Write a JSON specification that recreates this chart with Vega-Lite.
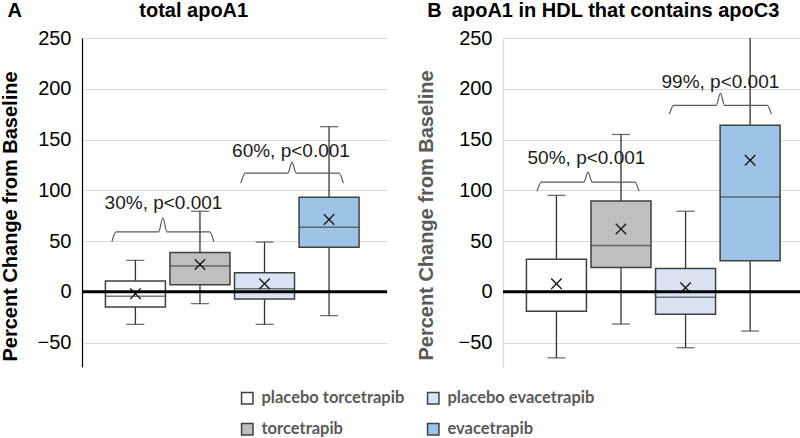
{
  "$schema": "https://vega.github.io/schema/vega-lite/v6.json",
  "padding": {"left": 0, "top": 0, "right": 0, "bottom": 0},
  "background": "white",
  "config": {
    "view": {"stroke": null},
    "font": "Liberation Sans",
    "axis": {"labelFont": "Liberation Sans", "titleFont": "Liberation Sans"}
  },
  "datasets": {
    "boxes": [
      {"panel": "A", "group": "placebo torcetrapib", "x": 1, "low": -32, "q1": -15, "median": -4.4, "q3": 10.6, "high": 31, "mean": -1.8},
      {"panel": "A", "group": "torcetrapib", "x": 2, "low": -11.6, "q1": 7.1, "median": 25.4, "q3": 38.8, "high": 79.4, "mean": 27},
      {"panel": "A", "group": "placebo evacetrapib", "x": 3, "low": -32, "q1": -7.1, "median": 3.1, "q3": 18.9, "high": 49, "mean": 8},
      {"panel": "A", "group": "evacetrapib", "x": 4, "low": -23.4, "q1": 44, "median": 63.7, "q3": 93.2, "high": 162.7, "mean": 71.3},
      {"panel": "B", "group": "placebo torcetrapib", "x": 1, "low": -65, "q1": -19, "median": 0, "q3": 32, "high": 95, "mean": 8},
      {"panel": "B", "group": "torcetrapib", "x": 2, "low": -31.7, "q1": 24, "median": 45.7, "q3": 89.5, "high": 155, "mean": 62},
      {"panel": "B", "group": "placebo evacetrapib", "x": 3, "low": -55, "q1": -22, "median": -5.3, "q3": 23, "high": 79.4, "mean": 4},
      {"panel": "B", "group": "evacetrapib", "x": 4, "low": -38.6, "q1": 30.7, "median": 93.4, "q3": 164, "high": 290, "mean": 129.7}
    ],
    "brackets": [
      {"panel": "A", "id": "A1", "x": 0.636, "y": 49.5},
      {"panel": "A", "id": "A1", "x": 0.70, "y": 59},
      {"panel": "A", "id": "A1", "x": 1.36, "y": 59},
      {"panel": "A", "id": "A1", "x": 1.425, "y": 73},
      {"panel": "A", "id": "A1", "x": 1.49, "y": 59},
      {"panel": "A", "id": "A1", "x": 2.15, "y": 59},
      {"panel": "A", "id": "A1", "x": 2.214, "y": 49.5},
      {"panel": "A", "id": "A2", "x": 2.633, "y": 107},
      {"panel": "A", "id": "A2", "x": 2.70, "y": 117},
      {"panel": "A", "id": "A2", "x": 3.36, "y": 117},
      {"panel": "A", "id": "A2", "x": 3.427, "y": 127.5},
      {"panel": "A", "id": "A2", "x": 3.49, "y": 117},
      {"panel": "A", "id": "A2", "x": 4.155, "y": 117},
      {"panel": "A", "id": "A2", "x": 4.22, "y": 107},
      {"panel": "B", "id": "B1", "x": 0.70, "y": 99},
      {"panel": "B", "id": "B1", "x": 0.765, "y": 108},
      {"panel": "B", "id": "B1", "x": 1.425, "y": 108},
      {"panel": "B", "id": "B1", "x": 1.49, "y": 118},
      {"panel": "B", "id": "B1", "x": 1.555, "y": 108},
      {"panel": "B", "id": "B1", "x": 2.215, "y": 108},
      {"panel": "B", "id": "B1", "x": 2.28, "y": 99},
      {"panel": "B", "id": "B2", "x": 2.75, "y": 175},
      {"panel": "B", "id": "B2", "x": 2.815, "y": 183.7},
      {"panel": "B", "id": "B2", "x": 3.475, "y": 183.7},
      {"panel": "B", "id": "B2", "x": 3.54, "y": 195.5},
      {"panel": "B", "id": "B2", "x": 3.605, "y": 183.7},
      {"panel": "B", "id": "B2", "x": 4.265, "y": 183.7},
      {"panel": "B", "id": "B2", "x": 4.33, "y": 175}
    ],
    "notes": [
      {"panel": "A", "label": "30%, p<0.001", "x": 1.435, "y": 88},
      {"panel": "A", "label": "60%, p<0.001", "x": 3.41, "y": 139},
      {"panel": "B", "label": "50%, p<0.001", "x": 1.465, "y": 132},
      {"panel": "B", "label": "99%, p<0.001", "x": 3.54, "y": 207}
    ],
    "titles": [
      {"panel": "A", "label": "A", "x": -0.98, "y": 271},
      {"panel": "A", "label": "total apoA1", "x": 1.06, "y": 271},
      {"panel": "B", "label": "B", "x": -1.0, "y": 271},
      {"panel": "B", "label": "apoA1 in HDL that contains apoC3", "x": -0.62, "y": 271}
    ]
  },
  "spacing": 27,
  "resolve": {"scale": {"fill": "shared"}},
  "hconcat": [
    {
      "width": 305,
      "height": 329,
      "layer": [
        {
          "data": {"name": "boxes"},
          "transform": [{"filter": "datum.panel == 'A'"}],
          "mark": {"type": "rule", "color": "#333333", "strokeWidth": 1.3},
          "encoding": {
            "x": {"field": "x", "type": "quantitative", "scale": {"domain": [0.25, 4.82], "nice": false, "zero": false}, "axis": null},
            "y": {"field": "low", "type": "quantitative", "scale": {"domain": [-74, 250], "nice": false, "zero": false},
              "axis": {"values": [-50, 0, 50, 100, 150, 200, 250], "grid": true, "gridColor": "#d9d9d9", "gridWidth": 1, "domainColor": "#000000", "domainWidth": 1.2, "ticks": false, "labelFontSize": 20, "labelColor": "#000000", "labelPadding": 11, "title": "Percent Change from Baseline", "titleFontSize": 20, "titleFontWeight": "bold", "titleColor": "#000000", "titlePadding": 17, "titleY": 178}},
            "y2": {"field": "high"}
          }
        },
        {
          "data": {"name": "boxes"},
          "transform": [{"filter": "datum.panel == 'A'"}],
          "mark": {"type": "tick", "orient": "horizontal", "size": 18, "thickness": 1.3, "color": "#333333"},
          "encoding": {"x": {"field": "x", "type": "quantitative"}, "y": {"field": "low", "type": "quantitative"}}
        },
        {
          "data": {"name": "boxes"},
          "transform": [{"filter": "datum.panel == 'A'"}],
          "mark": {"type": "tick", "orient": "horizontal", "size": 18, "thickness": 1.3, "color": "#333333"},
          "encoding": {"x": {"field": "x", "type": "quantitative"}, "y": {"field": "high", "type": "quantitative"}}
        },
        {
          "data": {"name": "boxes"},
          "transform": [{"filter": "datum.panel == 'A'"}],
          "mark": {"type": "bar", "size": 60, "stroke": "#404040", "strokeWidth": 1.5, "opacity": 1},
          "encoding": {
            "x": {"field": "x", "type": "quantitative"},
            "y": {"field": "q1", "type": "quantitative"},
            "y2": {"field": "q3"},
            "fill": {"field": "group", "type": "nominal",
              "scale": {"domain": ["placebo torcetrapib", "placebo evacetrapib", "torcetrapib", "evacetrapib"], "range": ["#ffffff", "#dae3f3", "#bfbfbf", "#9dc3e6"]},
              "legend": {"orient": "none", "legendX": 157, "legendY": 352, "direction": "horizontal", "columns": 2, "title": null, "symbolType": "square", "symbolSize": 130, "symbolStrokeColor": "#404040", "symbolStrokeWidth": 1.5, "symbolOpacity": 1, "labelFont": "Lato", "labelFontSize": 16.5, "labelFontWeight": "bold", "labelColor": "#595959", "labelOffset": 6, "columnPadding": 19, "rowPadding": 13}}
          }
        },
        {
          "data": {"name": "boxes"},
          "transform": [{"filter": "datum.panel == 'A'"}],
          "mark": {"type": "tick", "orient": "horizontal", "size": 60, "thickness": 1.5, "color": "#404040"},
          "encoding": {"x": {"field": "x", "type": "quantitative"}, "y": {"field": "median", "type": "quantitative"}}
        },
        {
          "data": {"name": "boxes"},
          "transform": [{"filter": "datum.panel == 'A'"}],
          "mark": {"type": "point", "shape": "M-1,-1L1,1M-1,1L1,-1", "size": 110, "filled": false, "stroke": "#1a1a1a", "strokeWidth": 1.4, "opacity": 1},
          "encoding": {"x": {"field": "x", "type": "quantitative"}, "y": {"field": "mean", "type": "quantitative"}}
        },
        {
          "data": {"values": [{}]},
          "mark": {"type": "rule", "color": "#000000", "strokeWidth": 3},
          "encoding": {"y": {"datum": 0}}
        },
        {
          "data": {"name": "brackets"},
          "transform": [{"filter": "datum.panel == 'A'"}],
          "mark": {"type": "line", "interpolate": "monotone", "color": "#595959", "strokeWidth": 1.2},
          "encoding": {"x": {"field": "x", "type": "quantitative"}, "y": {"field": "y", "type": "quantitative"}, "detail": {"field": "id"}}
        },
        {
          "data": {"name": "notes"},
          "transform": [{"filter": "datum.panel == 'A'"}],
          "mark": {"type": "text", "font": "Liberation Sans", "fontSize": 19, "color": "#1a1a1a", "baseline": "middle", "align": "center"},
          "encoding": {"x": {"field": "x", "type": "quantitative"}, "y": {"field": "y", "type": "quantitative"}, "text": {"field": "label"}}
        },
        {
          "data": {"name": "titles"},
          "transform": [{"filter": "datum.panel == 'A'"}],
          "mark": {"type": "text", "font": "Liberation Sans", "fontSize": 20, "fontWeight": "bold", "color": "#000000", "baseline": "alphabetic", "align": "left"},
          "encoding": {"x": {"field": "x", "type": "quantitative"}, "y": {"field": "y", "type": "quantitative"}, "text": {"field": "label"}}
        }
      ]
    },
    {
      "width": 307,
      "height": 329,
      "layer": [
        {
          "data": {"name": "boxes"},
          "transform": [{"filter": "datum.panel == 'B'"}],
          "mark": {"type": "rule", "color": "#333333", "strokeWidth": 1.3, "clip": true},
          "encoding": {
            "x": {"field": "x", "type": "quantitative", "scale": {"domain": [0.25, 4.85], "nice": false, "zero": false}, "axis": null},
            "y": {"field": "low", "type": "quantitative", "scale": {"domain": [-74, 250], "nice": false, "zero": false},
              "axis": {"values": [-50, 0, 50, 100, 150, 200, 250], "grid": true, "gridColor": "#d9d9d9", "gridWidth": 1, "domainColor": "#d9d9d9", "domainWidth": 1.2, "ticks": false, "labelFontSize": 20, "labelColor": "#000000", "labelPadding": 11, "title": "Percent Change from Baseline", "titleFontSize": 20, "titleFontWeight": "bold", "titleColor": "#595959", "titlePadding": 22, "titleY": 177}},
            "y2": {"field": "high"}
          }
        },
        {
          "data": {"name": "boxes"},
          "transform": [{"filter": "datum.panel == 'B'"}],
          "mark": {"type": "tick", "orient": "horizontal", "size": 18, "thickness": 1.3, "color": "#333333", "clip": true},
          "encoding": {"x": {"field": "x", "type": "quantitative"}, "y": {"field": "low", "type": "quantitative"}}
        },
        {
          "data": {"name": "boxes"},
          "transform": [{"filter": "datum.panel == 'B'"}],
          "mark": {"type": "tick", "orient": "horizontal", "size": 18, "thickness": 1.3, "color": "#333333", "clip": true},
          "encoding": {"x": {"field": "x", "type": "quantitative"}, "y": {"field": "high", "type": "quantitative"}}
        },
        {
          "data": {"name": "boxes"},
          "transform": [{"filter": "datum.panel == 'B'"}],
          "mark": {"type": "bar", "size": 60, "stroke": "#404040", "strokeWidth": 1.5, "opacity": 1},
          "encoding": {
            "x": {"field": "x", "type": "quantitative"},
            "y": {"field": "q1", "type": "quantitative"},
            "y2": {"field": "q3"},
            "fill": {"field": "group", "type": "nominal",
              "scale": {"domain": ["placebo torcetrapib", "placebo evacetrapib", "torcetrapib", "evacetrapib"], "range": ["#ffffff", "#dae3f3", "#bfbfbf", "#9dc3e6"]},
              "legend": {"orient": "none", "legendX": 157, "legendY": 352, "direction": "horizontal", "columns": 2, "title": null, "symbolType": "square", "symbolSize": 130, "symbolStrokeColor": "#404040", "symbolStrokeWidth": 1.5, "symbolOpacity": 1, "labelFont": "Lato", "labelFontSize": 16.5, "labelFontWeight": "bold", "labelColor": "#595959", "labelOffset": 6, "columnPadding": 19, "rowPadding": 13}}
          }
        },
        {
          "data": {"name": "boxes"},
          "transform": [{"filter": "datum.panel == 'B'"}],
          "mark": {"type": "tick", "orient": "horizontal", "size": 60, "thickness": 1.5, "color": "#404040"},
          "encoding": {"x": {"field": "x", "type": "quantitative"}, "y": {"field": "median", "type": "quantitative"}}
        },
        {
          "data": {"name": "boxes"},
          "transform": [{"filter": "datum.panel == 'B'"}],
          "mark": {"type": "point", "shape": "M-1,-1L1,1M-1,1L1,-1", "size": 110, "filled": false, "stroke": "#1a1a1a", "strokeWidth": 1.4, "opacity": 1},
          "encoding": {"x": {"field": "x", "type": "quantitative"}, "y": {"field": "mean", "type": "quantitative"}}
        },
        {
          "data": {"values": [{}]},
          "mark": {"type": "rule", "color": "#000000", "strokeWidth": 3},
          "encoding": {"y": {"datum": 0}}
        },
        {
          "data": {"name": "brackets"},
          "transform": [{"filter": "datum.panel == 'B'"}],
          "mark": {"type": "line", "interpolate": "monotone", "color": "#595959", "strokeWidth": 1.2},
          "encoding": {"x": {"field": "x", "type": "quantitative"}, "y": {"field": "y", "type": "quantitative"}, "detail": {"field": "id"}}
        },
        {
          "data": {"name": "notes"},
          "transform": [{"filter": "datum.panel == 'B'"}],
          "mark": {"type": "text", "font": "Liberation Sans", "fontSize": 19, "color": "#1a1a1a", "baseline": "middle", "align": "center"},
          "encoding": {"x": {"field": "x", "type": "quantitative"}, "y": {"field": "y", "type": "quantitative"}, "text": {"field": "label"}}
        },
        {
          "data": {"name": "titles"},
          "transform": [{"filter": "datum.panel == 'B'"}],
          "mark": {"type": "text", "font": "Liberation Sans", "fontSize": 20, "fontWeight": "bold", "color": "#000000", "baseline": "alphabetic", "align": "left"},
          "encoding": {"x": {"field": "x", "type": "quantitative"}, "y": {"field": "y", "type": "quantitative"}, "text": {"field": "label"}}
        }
      ]
    }
  ]
}
